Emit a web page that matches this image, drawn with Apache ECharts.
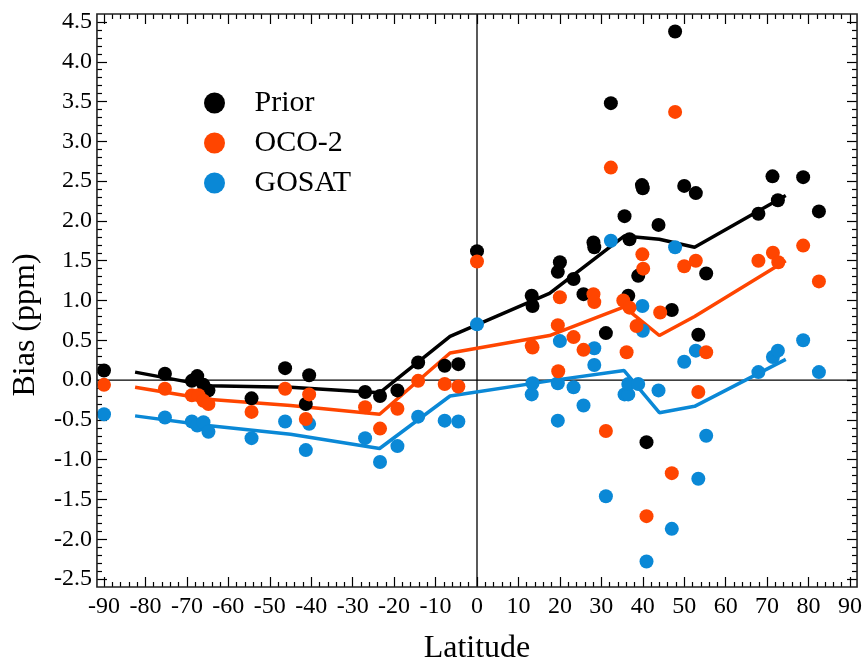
<!DOCTYPE html>
<html><head><meta charset="utf-8">
<script src="https://cdn.jsdelivr.net/npm/echarts@6/dist/echarts.min.js"></script>
<style>html,body{margin:0;padding:0;background:#fff}#c{width:862px;height:663px}</style>
</head><body><div id="c"></div>
<script>
// ---- data ----
const priorLat  = [-90, -75.3, -68.8, -67.5, -66.0, -64.8, -54.4, -46.3, -41.3, -40.5, -27.0, -23.4, -19.2, -14.2, -7.8, -4.5, 0, 13.2, 13.4, 19.5, 20.0, 23.3, 25.7, 28.1, 28.3, 31.1, 32.3, 35.6, 36.5, 36.8, 38.9, 39.8, 40.0, 40.9, 43.8, 47.0, 47.8, 50.0, 52.8, 53.4, 55.3, 67.9, 71.3, 72.6, 78.7, 82.5];
const priorBias = [0.12, 0.08, -0.01, 0.05, -0.06, -0.13, -0.23, 0.15, -0.30, 0.06, -0.15, -0.20, -0.13, 0.22, 0.18, 0.20, 1.62, 1.06, 0.93, 1.36, 1.48, 1.27, 1.08, 1.73, 1.67, 0.59, 3.48, 2.06, 1.06, 1.77, 1.31, 2.45, 2.41, -0.78, 1.95, 0.88, 4.38, 2.44, 2.35, 0.57, 1.34, 2.09, 2.56, 2.26, 2.55, 2.12];

const ocoLat  = [-90, -75.3, -68.8, -67.2, -66.0, -64.8, -54.4, -46.3, -41.3, -40.5, -27.0, -23.4, -19.2, -14.2, -7.8, -4.5, 0, 13.2, 13.4, 19.5, 19.6, 20.0, 23.3, 25.7, 28.1, 28.3, 31.1, 32.3, 35.3, 36.1, 36.8, 38.5, 39.9, 40.1, 40.9, 44.2, 47.0, 47.8, 50.0, 52.8, 53.4, 55.3, 67.9, 71.4, 72.7, 78.7, 82.5];
const ocoBias = [-0.06, -0.11, -0.19, -0.19, -0.26, -0.30, -0.40, -0.11, -0.49, -0.18, -0.34, -0.61, -0.36, -0.01, -0.05, -0.08, 1.49, 0.43, 0.41, 0.69, 0.11, 1.04, 0.54, 0.38, 1.08, 0.98, -0.64, 2.67, 1.00, 0.35, 0.91, 0.68, 1.58, 1.40, -1.71, 0.85, -1.17, 3.37, 1.43, 1.50, -0.15, 0.35, 1.50, 1.60, 1.48, 1.69, 1.24];

const gosatLat  = [-90, -75.3, -68.8, -67.5, -66.0, -64.8, -54.4, -46.3, -41.3, -40.5, -27.0, -23.4, -19.2, -14.2, -7.8, -4.5, 0, 13.2, 13.4, 19.5, 19.5, 20.0, 23.3, 25.7, 28.3, 28.3, 31.1, 32.3, 35.6, 36.5, 36.5, 38.9, 39.9, 40.0, 40.9, 43.8, 47.0, 47.8, 50.0, 52.8, 53.4, 55.3, 67.9, 71.4, 72.6, 78.7, 82.5];
const gosatBias = [-0.43, -0.47, -0.52, -0.57, -0.53, -0.65, -0.73, -0.52, -0.88, -0.55, -0.73, -1.03, -0.83, -0.46, -0.51, -0.52, 0.70, -0.18, -0.04, -0.04, -0.51, 0.49, -0.09, -0.32, 0.40, 0.19, -1.46, 1.75, -0.18, -0.18, -0.05, -0.05, 0.93, 0.62, -2.28, -0.13, -1.87, 1.67, 0.23, 0.37, -1.24, -0.70, 0.10, 0.29, 0.37, 0.50, 0.10];

const lineLat   = [-82.5, -65, -45, -23.5, -6.5, 17.5, 35.5, 44, 52.5, 74.5];
const priorMean = [0.10, -0.07, -0.09, -0.16, 0.55, 1.09, 1.81, 1.77, 1.67, 2.32];
const ocoMean   = [-0.09, -0.24, -0.32, -0.43, 0.34, 0.56, 0.92, 0.56, 0.80, 1.50];
const gosatMean = [-0.45, -0.57, -0.68, -0.86, -0.20, -0.01, 0.12, -0.41, -0.33, 0.26];

const seriesNames = ['Prior', 'OCO-2', 'GOSAT'];
const colors = ['#000000', '#FF4500', '#0A88D6'];

// ---- chart ----
const FONT = "'Liberation Serif','Times New Roman',serif";
const pair = (xs, ys) => xs.map((x, i) => [x, ys[i]]);
const chart = echarts.init(document.getElementById('c'), null, {renderer: 'canvas'});

const tickStyle = {color: '#000', width: 1.2};
function xAx(pos, showLabel) {
  return {
    type: 'value', position: pos, min: -90, max: 90, interval: 10, offset: 8,
    axisLine: {show: false, onZero: false},
    axisTick: {show: true, inside: true, length: 10, lineStyle: tickStyle},
    minorTick: {show: true, splitNumber: 5, length: 5, lineStyle: tickStyle},
    splitLine: {show: false},
    axisLabel: {show: showLabel, margin: 8, color: '#000', fontFamily: FONT, fontSize: 24,
      formatter: v => String(v)},
    name: showLabel ? 'Latitude' : '', nameLocation: 'middle', nameGap: 46,
    nameTextStyle: {color: '#000', fontFamily: FONT, fontSize: 32}
  };
}
function yAx(pos, showLabel) {
  return {
    type: 'value', position: pos, min: -2.5, max: 4.5, interval: 0.5, offset: 7,
    axisLine: {show: false, onZero: false},
    axisTick: {show: true, inside: true, length: 10, lineStyle: tickStyle},
    minorTick: {show: true, splitNumber: 5, length: 5, lineStyle: tickStyle},
    splitLine: {show: false},
    axisLabel: {show: showLabel, margin: 5, color: '#000', fontFamily: FONT, fontSize: 24,
      formatter: v => v.toFixed(1)}
  };
}

const scatter = (name, lat, bias, color, z) => ({
  name, type: 'scatter', data: pair(lat, bias), symbol: 'circle', symbolSize: 14,
  itemStyle: {color, opacity: 1}, z, silent: true
});
const line = (name, lat, vals, color) => ({
  name, type: 'line', data: pair(lat, vals), symbol: 'none', showSymbol: false,
  lineStyle: {color, width: 3.5}, z: 3, silent: true
});

chart.setOption({
  animation: false,
  backgroundColor: '#fff',
  grid: {left: 104, right: 12, top: 22, bottom: 84, containLabel: false, outerBoundsMode: 'none'},
  xAxis: [xAx('bottom', true), xAx('top', false)],
  yAxis: [yAx('left', true), yAx('right', false)],
  legend: {
    data: seriesNames, orient: 'vertical', left: 204, top: 88, padding: 0,
    itemWidth: 70, itemHeight: 21, itemGap: 10, icon: 'circle',
    textStyle: {color: '#000', fontFamily: FONT, fontSize: 30, lineHeight: 30},
    selectedMode: false
  },
  series: [
    line('Prior mean', lineLat, priorMean, colors[0]),
    line('OCO-2 mean', lineLat, ocoMean, colors[1]),
    line('GOSAT mean', lineLat, gosatMean, colors[2]),
    scatter(seriesNames[2], gosatLat, gosatBias, colors[2], 4),
    scatter(seriesNames[0], priorLat, priorBias, colors[0], 5),
    scatter(seriesNames[1], ocoLat, ocoBias, colors[1], 6)
  ]
});

// frame and zero reference lines from axis conversion
const tl = chart.convertToPixel({seriesIndex: 3}, [-91.7, 4.6]);
const br = chart.convertToPixel({seriesIndex: 3}, [91.7, -2.6]);
const o  = chart.convertToPixel({seriesIndex: 3}, [0, 0]);
chart.setOption({
  graphic: [
    {type: 'line', z: 1, silent: true, shape: {x1: o[0], y1: tl[1], x2: o[0], y2: br[1]}, style: {stroke: '#000', lineWidth: 1.3}},
    {type: 'line', z: 1, silent: true, shape: {x1: tl[0], y1: o[1], x2: br[0], y2: o[1]}, style: {stroke: '#000', lineWidth: 1.3}},
    {type: 'rect', z: 10, silent: true, shape: {x: tl[0], y: tl[1], width: br[0] - tl[0], height: br[1] - tl[1]}, style: {fill: null, stroke: '#222', lineWidth: 1.6}},
    {type: 'text', z: 10, silent: true, x: 26, y: 325, rotation: Math.PI / 2,
     style: {text: 'Bias (ppm)', fill: '#000', font: "32px " + FONT, align: 'center', verticalAlign: 'middle'}}
  ]
});
</script>
</body></html>
